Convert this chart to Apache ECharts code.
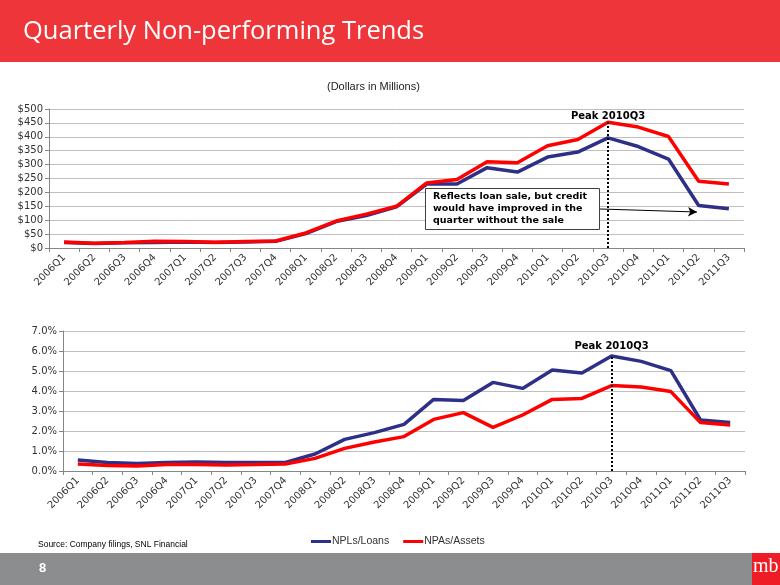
<!DOCTYPE html>
<html>
<head>
<meta charset="utf-8">
<script src="https://cdn.jsdelivr.net/npm/echarts@6/dist/echarts.min.js"></script>
<style>
html,body{margin:0;padding:0;background:#fff;}
#chart{width:780px;height:585px;}
</style>
</head>
<body>
<div id="chart"></div>
<script>
const categories = ['2006Q1','2006Q2','2006Q3','2006Q4','2007Q1','2007Q2','2007Q3','2007Q4','2008Q1','2008Q2','2008Q3','2008Q4','2009Q1','2009Q2','2009Q3','2009Q4','2010Q1','2010Q2','2010Q3','2010Q4','2011Q1','2011Q2','2011Q3'];
const nplDollars = [20,16,19,20,22,20,22,24,52,95,117,148,230,230,289,273,327,345,396,365,320,153,141];
const npaDollars = [22,17,20,24,23,21,23,25,54,97,122,150,234,246,310,307,368,390,452,435,401,240,230];
const nplRatio = [0.55,0.42,0.38,0.43,0.45,0.42,0.42,0.43,0.85,1.58,1.92,2.33,3.58,3.52,4.43,4.13,5.05,4.90,5.75,5.48,5.02,2.55,2.43];
const npaRatio = [0.35,0.27,0.25,0.32,0.32,0.30,0.32,0.35,0.63,1.13,1.45,1.72,2.58,2.92,2.18,2.80,3.58,3.63,4.27,4.20,3.97,2.42,2.30];
const seriesNames = ['NPLs/Loans','NPAs/Assets'];
const peakQuarter = '2010Q3';
const dollarAxis = {min:0, max:500, interval:50};
const ratioAxis = {min:0, max:7, interval:1};

const BLUE = '#2E3087';
const RED = '#FF0000';
const LBL = '#333333';
const FONT = 'DejaVu Sans';

const chart = echarts.init(document.getElementById('chart'), null, {renderer:'canvas'});

function xAxisCfg(gridIndex){
  return {
    type:'category', gridIndex, data:categories, boundaryGap:true,
    axisLine:{lineStyle:{color:'#868686', width:1}},
    axisTick:{show:true, alignWithLabel:false, length:4, lineStyle:{color:'#868686'}},
    axisLabel:{rotate:45, interval:0, fontFamily:FONT, fontSize:10, color:LBL, margin:8}
  };
}
function yAxisCfg(gridIndex, cfg, fmt){
  return {
    type:'value', gridIndex, min:cfg.min, max:cfg.max, interval:cfg.interval,
    axisLine:{show:true, lineStyle:{color:'#868686', width:1}},
    axisTick:{show:true, length:4, lineStyle:{color:'#868686'}},
    splitLine:{lineStyle:{color:'#BFBFBF', width:1}},
    axisLabel:{formatter:fmt, fontFamily:FONT, fontSize:10, color:LBL, margin:6}
  };
}
function peakLine(endVal, dist){
  return {
    silent:true, symbol:['none','none'], animation:false,
    lineStyle:{type:'dotted', color:'#000', width:2},
    label:{show:true, position:'end', formatter:'Peak 2010Q3', fontFamily:FONT, fontWeight:'bold', fontSize:10, color:'#000', distance:dist},
    data:[[{coord:[peakQuarter,0]},{coord:[peakQuarter,endVal]}]]
  };
}

const option = {
  animation:false,
  backgroundColor:'#fff',
  grid:[
    {left:49, right:36, top:109, height:139},
    {left:63, right:35, top:331, height:140}
  ],
  xAxis:[xAxisCfg(0), xAxisCfg(1)],
  yAxis:[
    yAxisCfg(0, dollarAxis, v => '$' + v),
    yAxisCfg(1, ratioAxis, v => v.toFixed(1) + '%')
  ],
  legend:{
    data:seriesNames, left:306, top:531, itemGap:14, itemWidth:20, itemHeight:3, icon:'rect',
    textStyle:{fontFamily:'Liberation Sans', fontSize:10.5, color:'#333', padding:[0,0,0,-4]}
  },
  series:[
    {name:seriesNames[0], type:'line', xAxisIndex:0, yAxisIndex:0, data:nplDollars, symbol:'none', lineStyle:{color:BLUE, width:3.5}, itemStyle:{color:BLUE}},
    {name:seriesNames[1], type:'line', xAxisIndex:0, yAxisIndex:0, data:npaDollars, symbol:'none', lineStyle:{color:RED, width:3.5}, itemStyle:{color:RED},
      markLine:peakLine(455, 0)},
    {name:'arrowNote', type:'line', xAxisIndex:0, yAxisIndex:0, data:[], symbol:'none',
      markLine:{silent:true, animation:false, symbol:['none','arrow'], symbolSize:[7,9],
        lineStyle:{type:'solid', color:'#000', width:1}, label:{show:false},
        data:[[{x:600, y:209},{x:697, y:212}]]}},
    {name:seriesNames[0], type:'line', xAxisIndex:1, yAxisIndex:1, data:nplRatio, symbol:'none', lineStyle:{color:BLUE, width:3.5}, itemStyle:{color:BLUE},
      markLine:peakLine(5.75, 5)},
    {name:seriesNames[1], type:'line', xAxisIndex:1, yAxisIndex:1, data:npaRatio, symbol:'none', lineStyle:{color:RED, width:3.5}, itemStyle:{color:RED}}
  ],
  graphic:[
    {type:'rect', left:0, top:0, z:-1, shape:{width:780, height:62}, style:{fill:'#EE353A'}},
    {type:'text', left:23, top:19, style:{text:'Quarterly Non-performing Trends', fill:'#fff', font:'25.5px "Open Sans"'}},
    {type:'text', left:327, top:81, style:{text:'(Dollars in Millions)', fill:'#222', font:'11px "Liberation Sans"'}},
    {type:'rect', left:425, top:188, z:100, shape:{width:174, height:41}, style:{fill:'#fff', stroke:'#404040', lineWidth:1}},
    {type:'text', left:433, top:191, z:101, style:{text:'Reflects loan sale, but credit\nwould have improved in the\nquarter without the sale', fill:'#000', font:'bold 9.5px "DejaVu Sans"', lineHeight:12}},
    {type:'text', left:38, top:540, style:{text:'Source: Company filings, SNL Financial', fill:'#000', font:'8.5px "Liberation Sans"'}},
    {type:'rect', left:0, top:553, shape:{width:780, height:32}, style:{fill:'#8C8D8F'}},
    {type:'text', left:39, top:562, style:{text:'8', fill:'#fff', font:'bold 13px "Liberation Sans"'}},
    {type:'rect', left:752, top:553, shape:{width:28, height:32}, style:{fill:'#EE1C25'}},
    {type:'text', left:753, top:557, style:{text:'mb', fill:'#fff', font:'20px "Liberation Serif"'}}
  ]
};
chart.setOption(option);
</script>
</body>
</html>
